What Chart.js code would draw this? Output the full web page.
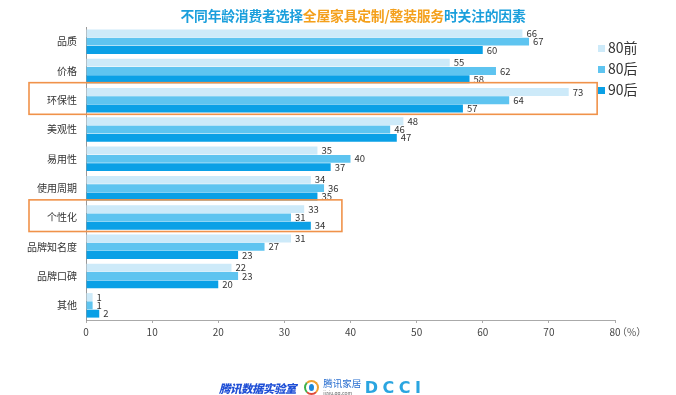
<!DOCTYPE html>
<html>
<head>
<meta charset="utf-8">
<script src="https://cdn.jsdelivr.net/npm/chart.js@4"></script>
<style>
	body{margin:0;background:#fff;font-family:"Noto Sans CJK SC","Noto Sans",sans-serif;}
	#wrap{position:relative;width:676px;height:395px;}
	#titre{position:absolute;left:353px;top:5px;transform:translateX(-50%);white-space:nowrap;font-size:13.8px;font-weight:700;color:#1a9fdc;letter-spacing:-0.2px;}
	#titre .orange{color:#f4a01c;}
	#legende{position:absolute;left:598px;top:37px;}
	#legende div{height:21px;line-height:21px;font-size:14px;color:#333;white-space:nowrap;}
	#legende span{display:inline-block;width:7px;height:7px;margin-right:3px;vertical-align:middle;position:relative;top:-1px;}
	#pied{position:absolute;left:219px;top:373px;white-space:nowrap;height:18px;}
	#pied > *{display:inline-block;vertical-align:middle;}
	.labo{font-size:11.5px;font-weight:900;font-style:italic;color:#1f4fd6;letter-spacing:-0.5px;}
	.rond{width:11px;height:11px;border-radius:50%;border:2px solid #f0a030;border-left-color:#3cb04a;border-bottom-color:#e04a3a;margin-left:4px;position:relative;}
	.rond:after{content:"";position:absolute;left:3px;top:2px;width:5px;height:7px;border-radius:50%;background:#1e88d8;}
	.jiaju{margin-left:1px;line-height:8px;color:#2a6fd0;}
	.jiaju b{display:block;font-size:9.5px;font-weight:400;line-height:11px;}
	.jiaju i{display:block;font-size:5px;font-style:normal;color:#666;}
	.dcci{margin-left:0px;font-family:"DejaVu Sans",sans-serif;font-size:16px;font-weight:700;color:#2aa5e0;letter-spacing:4.5px;}
</style>
</head>
<body>
<div id="wrap">
	<canvas id="graphique-facteurs" width="676" height="395"></canvas>
	<div id="titre">不同年龄消费者选择<span class="orange">全屋家具定制/整装服务</span>时关注的因素</div>
	<div id="legende"></div>
	<div id="pied">
		<span class="labo">腾讯数据实验室</span>
		<span class="rond"></span>
		<span class="jiaju"><b>腾讯家居</b><i>jiaju.qq.com</i></span>
		<span class="dcci">DCCI</span>
	</div>
</div>
<script>
//Donnees (%)
const categories = ["品质", "价格", "环保性", "美观性", "易用性", "使用周期", "个性化", "品牌知名度", "品牌口碑", "其他"];
const series = ["80前", "80后", "90后"];
const valeurs80Avant = [66, 55, 73, 48, 35, 34, 33, 31, 22, 1];
const valeurs80Apres = [67, 62, 64, 46, 40, 36, 31, 27, 23, 1];
const valeurs90Apres = [60, 58, 57, 47, 37, 35, 34, 23, 20, 2];
const ticksX = [0, 10, 20, 30, 40, 50, 60, 70, 80];
//Categories encadrees en orange et valeur ou s'arrete le cadre
const encadres = ["环保性", "个性化"];
const finEncadres = [77.3, 38.7];

const couleurs = ["#cdeaf9", "#5ec4f0", "#0aa0e6"];
const police = "'Noto Sans CJK SC', 'Noto Sans', sans-serif";

//Valeurs ecrites au bout des barres
const pluginValeurs = {
	id: "valeurs",
	afterDatasetsDraw(chart){
		const ctx = chart.ctx;
		ctx.save();
		ctx.font = "9.5px " + police;
		ctx.fillStyle = "#333";
		ctx.textBaseline = "middle";
		chart.data.datasets.forEach((ds, i) => {
			chart.getDatasetMeta(i).data.forEach((barre, j) => {
				ctx.fillText(ds.data[j], barre.x + 4, barre.y);
			});
		});
		ctx.restore();
	}
};

//Cadres orange + unite (%)
const pluginCadres = {
	id: "cadres",
	afterDraw(chart){
		const ctx = chart.ctx;
		const x = chart.scales.x;
		const y = chart.scales.y;
		const pas = y.getPixelForValue(1) - y.getPixelForValue(0);
		ctx.save();
		ctx.strokeStyle = "#f0924a";
		ctx.lineWidth = 1.6;
		encadres.forEach((cat, i) => {
			const centre = y.getPixelForValue(categories.indexOf(cat));
			const haut = centre - pas * 0.6;
			const bas = centre + pas * 0.48;
			ctx.strokeRect(29, haut, x.getPixelForValue(finEncadres[i]) - 29, bas - haut);
		});
		ctx.font = "10px " + police;
		ctx.fillStyle = "#555";
		ctx.textBaseline = "middle";
		ctx.fillText("（%）", x.getPixelForValue(80) + 2, x.bottom - 8);
		ctx.restore();
	}
};

const data = {
	labels: categories,
	datasets: [
		{label: series[0], data: valeurs80Avant, backgroundColor: couleurs[0]},
		{label: series[1], data: valeurs80Apres, backgroundColor: couleurs[1]},
		{label: series[2], data: valeurs90Apres, backgroundColor: couleurs[2]},
	],
};

const config = {
	type: "bar",
	data: data,
	options: {
		indexAxis: "y",
		responsive: false,
		animation: false,
		categoryPercentage: 0.85,
		barPercentage: 0.95,
		layout: {padding: {top: 27, right: 61, bottom: 55, left: 0}},
		plugins: {
			legend: {display: false},
			tooltip: {enabled: false},
		},
		scales: {
			x: {
				min: 0,
				max: 80,
				afterBuildTicks: scale => { scale.ticks = ticksX.map(v => ({value: v})); },
				afterFit: scale => { scale.height = 20; },
				grid: {drawOnChartArea: false, drawTicks: true, tickLength: 3, color: "#aaa"},
				border: {display: true, color: "#aaa"},
				ticks: {font: {size: 10, family: police}, color: "#444", padding: 3},
			},
			y: {
				afterFit: scale => { scale.width = 86; },
				grid: {display: false},
				border: {display: true, color: "#999"},
				ticks: {font: {size: 10, family: police}, color: "#333", padding: 1},
			},
		},
	},
	plugins: [pluginValeurs, pluginCadres],
};

const graphique = new Chart(document.querySelector("#graphique-facteurs"), config);

//Legende a droite, construite depuis les datasets
const legende = document.querySelector("#legende");
graphique.data.datasets.forEach(ds => {
	const ligne = document.createElement("div");
	ligne.innerHTML = `<span style="background:${ds.backgroundColor}"></span>${ds.label}`;
	legende.appendChild(ligne);
});
</script>
</body>
</html>
